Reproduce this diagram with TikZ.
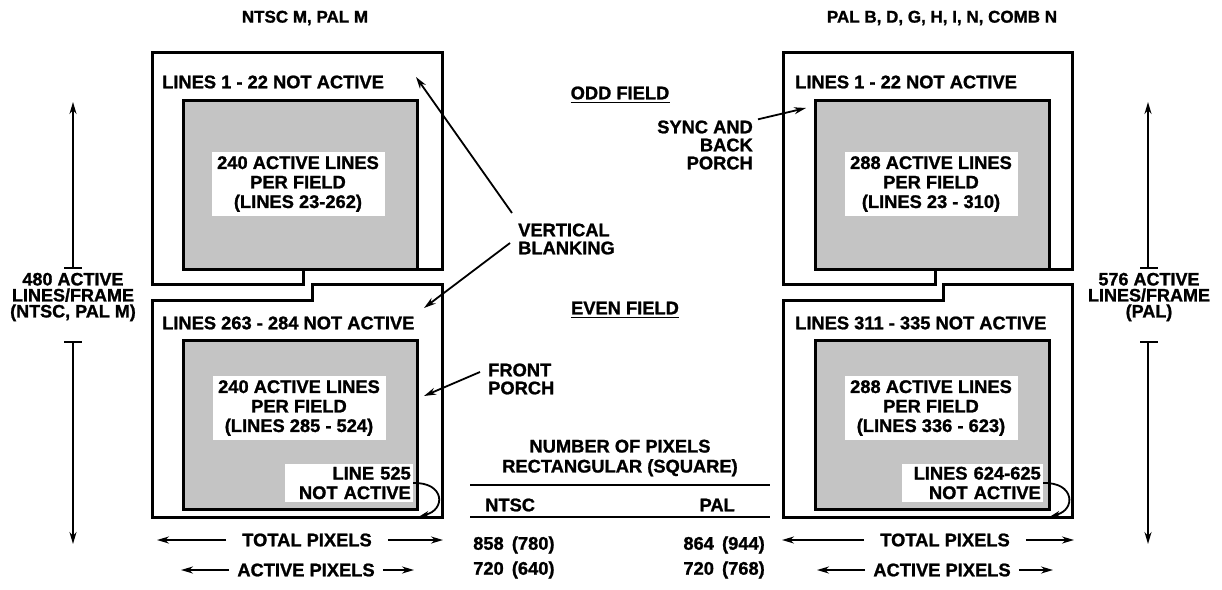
\documentclass[tikz,border=0pt]{standalone}
\usepackage{fontspec}
\setmainfont{Liberation Sans}[BoldFont={Liberation Sans Bold},BoldFeatures={FakeBold=1.2}]
\usetikzlibrary{arrows.meta}
\begin{document}
\begin{tikzpicture}[x=1pt,y=-1pt,
  frame/.style={line width=3pt, line join=miter},
  shade/.style={line width=3pt, fill=black!23},
  lbl/.style={inner sep=0pt, font=\bfseries\fontsize{18.3}{19.5}\selectfont},
  dimlbl/.style={inner sep=0pt, align=center, font=\bfseries\fontsize{18}{16}\selectfont},
  hdr/.style={inner sep=0pt, font=\bfseries\fontsize{17}{18}\selectfont},
  wbox/.style={lbl, fill=white, align=center, minimum width=173pt, minimum height=64pt},
  nabox/.style={lbl, fill=white, align=right, inner xsep=2pt, inner ysep=3pt, anchor=east},
  arr/.style={line width=1.8pt, -{Stealth[length=12pt,width=7pt]}},
  carr/.style={line width=1.8pt, -{Stealth[length=9pt,width=6pt]}},
  rule/.style={line width=2pt},
  tbar/.style={line width=2pt}
]
\useasboundingbox (0,0) rectangle (1222,589);

% ---------- headers ----------
\node[hdr] (hl) at (305,18) {NTSC M, PAL M};
\node[hdr] (hr) at (942,18) {PAL B, D, G, H, I, N, COMB N};

% ---------- left frames ----------
\draw[frame] (152,52) -- (442,52) -- (442,269) -- (303,269) -- (303,284) -- (152,284) -- cycle;
\draw[shade] (183,100) rectangle (417,269);
\draw[frame] (152,300) -- (312,300) -- (312,284) -- (442,284) -- (442,517) -- (152,517) -- cycle;
\draw[shade] (183,340) rectangle (417,509);

% ---------- right frames ----------
\draw[frame] (783,52) -- (1072,52) -- (1072,269) -- (935,269) -- (935,284) -- (783,284) -- cycle;
\draw[shade] (815,100) rectangle (1049,269);
\draw[frame] (783,300) -- (943,300) -- (943,284) -- (1072,284) -- (1072,517) -- (783,517) -- cycle;
\draw[shade] (815,340) rectangle (1049,509);

% ---------- texts in frames ----------
\node[lbl, anchor=west] (l1) at (162,82) {LINES 1 - 22 NOT ACTIVE};
\node[wbox] (lw1) at (298,184) {240 ACTIVE LINES\\PER FIELD\\(LINES 23-262)};
\node[lbl, anchor=west] (l2) at (162,323) {LINES 263 - 284 NOT ACTIVE};
\node[wbox] (lw2) at (299,408) {240 ACTIVE LINES\\PER FIELD\\(LINES 285 - 524)};
\node[nabox, text width=124pt] (lna) at (413,483) {LINE 525\\NOT ACTIVE};

\node[lbl, anchor=west] (r1) at (795,82) {LINES 1 - 22 NOT ACTIVE};
\node[wbox] (rw1) at (931,184) {288 ACTIVE LINES\\PER FIELD\\(LINES 23 - 310)};
\node[lbl, anchor=west] (r2) at (795,323) {LINES 311 - 335 NOT ACTIVE};
\node[wbox] (rw2) at (931,408) {288 ACTIVE LINES\\PER FIELD\\(LINES 336 - 623)};
\node[nabox, text width=137pt] (rna) at (1043,483) {LINES 624-625\\NOT ACTIVE};

% curved arrows to last line
\coordinate (lnat) at (420,516);
\coordinate (rnat) at (1051,516);
\draw[carr] (lna.east) .. controls (445,482) and (446,510) .. (lnat);
\draw[carr] (rna.east) .. controls (1075,482) and (1076,510) .. (rnat);

% ---------- middle labels ----------
\node[lbl] (odd) at (620,93) {ODD FIELD};
\draw[line width=1.6pt] ([yshift=-3pt]odd.base west) -- ([yshift=-3pt]odd.base east);
\node[lbl] (even) at (625,308) {EVEN FIELD};
\draw[line width=1.6pt] ([yshift=-3pt]even.base west) -- ([yshift=-3pt]even.base east);

\node[lbl, align=right, anchor=east, font=\bfseries\fontsize{18.3}{18}\selectfont] (sync) at (753,145) {SYNC AND\\BACK\\PORCH};
\coordinate (synct) at (806,108);
\draw[arr] (sync.north east) ++(5,-1) -- (synct);

\node[lbl, align=left, anchor=west, font=\bfseries\fontsize{18.3}{18}\selectfont] (vb) at (518,239) {VERTICAL\\BLANKING};
\coordinate (vbt1) at (416,77);
\coordinate (vbt2) at (424,308);
\draw[arr] (512,213) -- (vbt1);
\draw[arr] (510,243) -- (vbt2);

\node[lbl, align=left, anchor=west, font=\bfseries\fontsize{18.3}{18}\selectfont] (fp) at (488,379) {FRONT\\PORCH};
\coordinate (fpt) at (424,396);
\draw[arr] (480,372) -- (fpt);

% ---------- vertical dimensions ----------
\node[dimlbl] (dl) at (73,297) {480 ACTIVE\\LINES/FRAME\\(NTSC, PAL M)};
\draw[tbar] (64,268) -- (82,268);
\draw[tbar] (64,342) -- (82,342);
\coordinate (dlt) at (73,102);
\coordinate (dlb) at (73,544);
\draw[arr] (73,268) -- (dlt);
\draw[arr] (73,342) -- (dlb);

\node[dimlbl] (dr) at (1149,297) {576 ACTIVE\\LINES/FRAME\\(PAL)};
\draw[tbar] (1140,268) -- (1158,268);
\draw[tbar] (1140,342) -- (1158,342);
\coordinate (drt) at (1148,102);
\coordinate (drb) at (1148,544);
\draw[arr] (1148,268) -- (drt);
\draw[arr] (1148,342) -- (drb);

% ---------- table ----------
\node[lbl, align=center, font=\bfseries\fontsize{18.3}{20}\selectfont] (tt) at (620,458) {NUMBER OF PIXELS\\RECTANGULAR (SQUARE)};
\draw[rule] (470,485) -- (770,485);
\node[lbl, anchor=west] (tn) at (485,505) {NTSC};
\node[lbl, anchor=east] (tp) at (735,505) {PAL};
\draw[rule] (470,517) -- (770,517);
\node[lbl, anchor=west] (n1) at (473,545) {858 \,(780)};
\node[lbl, anchor=east] (p1) at (765,545) {864 \,(944)};
\node[lbl, anchor=west] (n2) at (473,570) {720 \,(640)};
\node[lbl, anchor=east] (p2) at (765,570) {720 \,(768)};

% ---------- horizontal pixel arrows ----------
\node[lbl] (ltot) at (307,540) {TOTAL PIXELS};
\coordinate (ltotl) at (157,540); \coordinate (ltotr) at (443,540);
\draw[arr] ([xshift=-16pt]ltot.west) -- (ltotl);
\draw[arr] ([xshift=16pt]ltot.east) -- (ltotr);
\node[lbl] (lact) at (306,570) {ACTIVE PIXELS};
\coordinate (lactl) at (181,570); \coordinate (lactr) at (414,570);
\draw[arr] ([xshift=-8pt]lact.west) -- (lactl);
\draw[arr] ([xshift=8pt]lact.east) -- (lactr);

\node[lbl] (rtot) at (945,540) {TOTAL PIXELS};
\coordinate (rtotl) at (782,540); \coordinate (rtotr) at (1074,540);
\draw[arr] ([xshift=-16pt]rtot.west) -- (rtotl);
\draw[arr] ([xshift=16pt]rtot.east) -- (rtotr);
\node[lbl] (ract) at (942,570) {ACTIVE PIXELS};
\coordinate (ractl) at (817,570); \coordinate (ractr) at (1053,570);
\draw[arr] ([xshift=-8pt]ract.west) -- (ractl);
\draw[arr] ([xshift=8pt]ract.east) -- (ractr);
\end{tikzpicture}
\end{document}
